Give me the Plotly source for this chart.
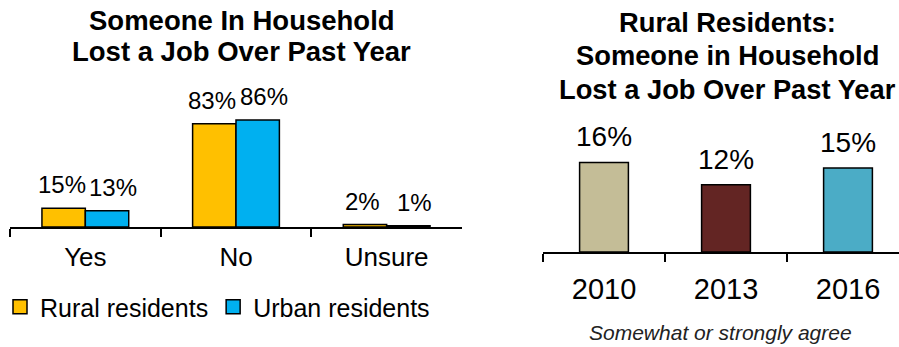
import plotly.graph_objects as go

# ---- data ----
left_categories = ["Yes", "No", "Unsure"]
rural_values = [15, 83, 2]
urban_values = [13, 86, 1]
series_names = ["Rural residents", "Urban residents"]

right_categories = ["2010", "2013", "2016"]
right_values = [16, 12, 15]

left_title_lines = ["Someone In Household", "Lost a Job Over Past Year"]
right_title_lines = ["Rural Residents:", "Someone in Household", "Lost a Job Over Past Year"]
footnote = "Somewhat or strongly agree"

# ---- style ----
FONT = "Liberation Sans, Arial, sans-serif"
rural_color = "#FFC000"
urban_color = "#00B0F0"
right_colors = ["#C4BD97", "#632523", "#4BACC6"]
W, H = 899, 347
BARGAP = 0.424

fig = go.Figure()

fig.add_trace(go.Bar(x=left_categories, y=rural_values, name=series_names[0],
                     marker=dict(color=rural_color, line=dict(color="black", width=1.5)),
                     xaxis="x", yaxis="y", showlegend=False))
fig.add_trace(go.Bar(x=left_categories, y=urban_values, name=series_names[1],
                     marker=dict(color=urban_color, line=dict(color="black", width=1.5)),
                     xaxis="x", yaxis="y", showlegend=False))
# legend swatches
for nm, col in zip(series_names, [rural_color, urban_color]):
    fig.add_trace(go.Scatter(x=[None], y=[None], mode="markers", name=nm,
                             marker=dict(symbol="square", size=14, color=col,
                                         line=dict(color="black", width=1.5)),
                             xaxis="x", yaxis="y", showlegend=True))

fig.add_trace(go.Bar(x=right_categories, y=right_values, width=0.4,
                     marker=dict(color=right_colors, line=dict(color="black", width=1.5)),
                     xaxis="x2", yaxis="y2", showlegend=False))

annotations = []
half = (1 - BARGAP) / 4
for vals, off, xs in [(rural_values, -half, -2), (urban_values, half, 6)]:
    for i, v in enumerate(vals):
        annotations.append(dict(x=i + off, y=v, xref="x", yref="y", text=f"{v}%",
                                showarrow=False, yanchor="bottom", yshift=8, xshift=xs,
                                font=dict(family=FONT, size=24, color="black")))
for i, v in enumerate(right_values):
    annotations.append(dict(x=i, y=v, xref="x2", yref="y2", text=f"{v}%",
                            showarrow=False, yanchor="bottom", yshift=8,
                            font=dict(family=FONT, size=28, color="black")))

for line, yc in zip(left_title_lines, [20, 52]):
    annotations.append(dict(x=242 / W, y=1 - yc / H, xref="paper", yref="paper", text=line,
                            showarrow=False, xanchor="center", yanchor="middle",
                            font=dict(family=FONT, size=27.5, color="black", weight="bold")))
for line, yc in zip(right_title_lines, [22, 56, 89]):
    annotations.append(dict(x=727 / W, y=1 - yc / H, xref="paper", yref="paper", text=line,
                            showarrow=False, xanchor="center", yanchor="middle",
                            font=dict(family=FONT, size=27.3, color="black", weight="bold")))
annotations.append(dict(x=720 / W, y=1 - 332 / H, xref="paper", yref="paper", text=footnote,
                        showarrow=False, xanchor="center", yanchor="middle",
                        font=dict(family=FONT, size=21, color="#222", style="italic")))

axis_common = dict(showline=True, linecolor="black", linewidth=1.5, ticks="outside",
                   tickson="boundaries", ticklen=8, tickcolor="black", tickwidth=1.5,
                   showgrid=False, zeroline=False, fixedrange=True)

fig.update_layout(
    width=W, height=H,
    margin=dict(l=0, r=0, t=0, b=0),
    paper_bgcolor="white", plot_bgcolor="white",
    barmode="group", bargap=BARGAP, bargroupgap=0,
    font=dict(family=FONT, color="black"),
    xaxis=dict(domain=[10 / W, 462 / W], range=[-0.5, 2.5], type="category",
               tickfont=dict(size=26), ticklabelstandoff=6, anchor="y", **axis_common),
    yaxis=dict(domain=[1 - 227 / H, 1 - 102.5 / H], range=[0, 100], visible=False, anchor="x"),
    xaxis2=dict(domain=[543 / W, 1.0], range=[-0.5, 2.418], type="category",
                tickfont=dict(size=29), ticklabelstandoff=10, anchor="y2", **axis_common),
    yaxis2=dict(domain=[1 - 252 / H, 1 - 140 / H], range=[0, 20], visible=False, anchor="x2"),
    showlegend=True,
    legend=dict(orientation="h", x=0, y=1 - 307 / H, xanchor="left", yanchor="middle",
                font=dict(family=FONT, size=25, color="black"), itemwidth=30,
                tracegroupgap=0, bgcolor="rgba(0,0,0,0)"),
    annotations=annotations,
)

fig.write_html("out.html")
